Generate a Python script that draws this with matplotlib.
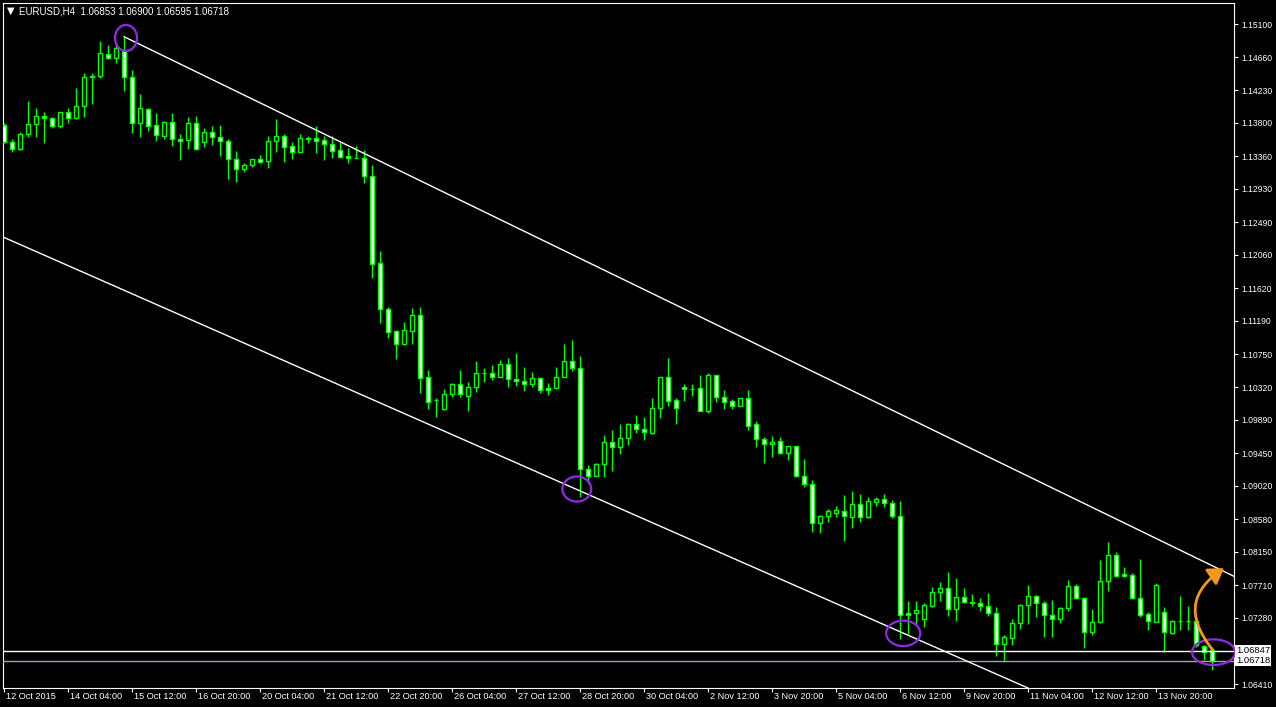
import matplotlib
matplotlib.use("Agg")
import matplotlib.pyplot as plt
import numpy as np
from matplotlib.patches import Ellipse, FancyArrowPatch
from matplotlib.path import Path

plt.rcParams["font.family"] = ["Liberation Sans", "DejaVu Sans"]

# EURUSD H4 candles, 12 Oct 2015 20:00 onwards
opens = [1.13770, 1.13550, 1.13450, 1.13648, 1.13779, 1.13893, 1.13866, 1.13757, 1.13937, 1.13858,
         1.14024, 1.14419, 1.14415, 1.14701, 1.14648, 1.14758, 1.14398, 1.13800, 1.13977, 1.13766,
         1.13629, 1.13806, 1.13582, 1.13573, 1.13793, 1.13550, 1.13674, 1.13608, 1.13563, 1.13319,
         1.13187, 1.13247, 1.13319, 1.13292, 1.13563, 1.13625, 1.13494, 1.13419, 1.13586, 1.13595,
         1.13573, 1.13516, 1.13441, 1.13362, 1.13332, 1.13332, 1.13103, 1.11949, 1.11343, 1.11058,
         1.10883, 1.11062, 1.11268, 1.10448, 1.10149, 1.10031, 1.10224, 1.10360, 1.10206, 1.10316,
         1.10501, 1.10501, 1.10456, 1.10619, 1.10426, 1.10399, 1.10356, 1.10435, 1.10303, 1.10303,
         1.10456, 1.10667, 1.10577, 1.09237, 1.09153, 1.09303, 1.09600, 1.09534, 1.09645, 1.09829,
         1.09763, 1.09719, 1.10040, 1.10448, 1.10149, 1.10316, 1.10294, 1.10303, 1.10008, 1.10478,
         1.10185, 1.10136, 1.10074, 1.10172, 1.09829, 1.09632, 1.09566, 1.09613, 1.09447, 1.09547,
         1.09149, 1.09039, 1.08534, 1.08622, 1.08665, 1.08688, 1.08613, 1.08776, 1.08613, 1.08810,
         1.08842, 1.08789, 1.08622, 1.07341, 1.07349, 1.07262, 1.07441, 1.07617, 1.07670, 1.07393,
         1.07559, 1.07493, 1.07472, 1.07437, 1.07341, 1.06932, 1.07019, 1.07209, 1.07450, 1.07568,
         1.07472, 1.07318, 1.07262, 1.07407, 1.07700, 1.07538, 1.07091, 1.07222, 1.07766, 1.08108,
         1.07854, 1.07845, 1.07538, 1.07327, 1.07230, 1.07362, 1.07085, 1.07239, 1.07239, 1.07239,
         1.06914, 1.06853]
highs = [1.13796, 1.13582, 1.13682, 1.14086, 1.13990, 1.13937, 1.13879, 1.13945, 1.13990, 1.14253,
         1.14451, 1.14459, 1.14876, 1.14824, 1.14854, 1.14933, 1.14494, 1.14174, 1.13990, 1.13924,
         1.13827, 1.13924, 1.13652, 1.13872, 1.13889, 1.13727, 1.13757, 1.13770, 1.13582, 1.13428,
         1.13266, 1.13322, 1.13375, 1.13625, 1.13849, 1.13652, 1.13542, 1.13652, 1.13625, 1.13757,
         1.13625, 1.13625, 1.13542, 1.13471, 1.13494, 1.13441, 1.13243, 1.12111, 1.11378, 1.11071,
         1.11172, 1.11365, 1.11378, 1.10544, 1.10172, 1.10290, 1.10377, 1.10544, 1.10382, 1.10663,
         1.10567, 1.10610, 1.10676, 1.10698, 1.10764, 1.10580, 1.10514, 1.10456, 1.10369, 1.10580,
         1.10887, 1.10939, 1.10729, 1.09293, 1.09324, 1.09688, 1.09754, 1.09833, 1.09842, 1.09952,
         1.09921, 1.10172, 1.10452, 1.10706, 1.10172, 1.10360, 1.10360, 1.10478, 1.10501, 1.10480,
         1.10281, 1.10162, 1.10172, 1.10281, 1.09873, 1.09658, 1.09675, 1.09658, 1.09547, 1.09550,
         1.09368, 1.09096, 1.08635, 1.08714, 1.08754, 1.08898, 1.08951, 1.08912, 1.08876, 1.08876,
         1.08912, 1.08833, 1.08823, 1.07503, 1.07507, 1.07480, 1.07691, 1.07757, 1.07888, 1.07809,
         1.07670, 1.07595, 1.07538, 1.07612, 1.07428, 1.07055, 1.07262, 1.07463, 1.07713, 1.07582,
         1.07507, 1.07516, 1.07428, 1.07779, 1.07727, 1.07559, 1.07393, 1.08043, 1.08283, 1.08152,
         1.07946, 1.07867, 1.08052, 1.07362, 1.07736, 1.07428, 1.07253, 1.07568, 1.07441, 1.07253,
         1.06925, 1.06900]
lows = [1.13533, 1.13419, 1.13445, 1.13608, 1.13616, 1.13529, 1.13727, 1.13727, 1.13800, 1.13849,
        1.13879, 1.14047, 1.14393, 1.14635, 1.14583, 1.14222, 1.13669, 1.13608, 1.13691, 1.13563,
        1.13582, 1.13498, 1.13309, 1.13450, 1.13445, 1.13484, 1.13507, 1.13362, 1.13059, 1.13024,
        1.13155, 1.13221, 1.13266, 1.13208, 1.13419, 1.13287, 1.13322, 1.13411, 1.13529, 1.13405,
        1.13309, 1.13340, 1.13340, 1.13274, 1.13330, 1.13003, 1.11760, 1.11159, 1.10970, 1.10689,
        1.10880, 1.10883, 1.10245, 1.10027, 1.09929, 1.10018, 1.10193, 1.10193, 1.10008, 1.10259,
        1.10390, 1.10413, 1.10448, 1.10324, 1.10334, 1.10272, 1.10324, 1.10237, 1.10215, 1.10290,
        1.10448, 1.10535, 1.08872, 1.09052, 1.09150, 1.09139, 1.09218, 1.09438, 1.09557, 1.09711,
        1.09623, 1.09702, 1.09916, 1.10070, 1.09833, 1.10140, 1.10206, 1.10004, 1.09974, 1.10127,
        1.10031, 1.10031, 1.10074, 1.09754, 1.09534, 1.09324, 1.09403, 1.09438, 1.09359, 1.09139,
        1.09008, 1.08415, 1.08402, 1.08547, 1.08613, 1.08297, 1.08468, 1.08547, 1.08599, 1.08754,
        1.08744, 1.08599, 1.06998, 1.07064, 1.07177, 1.07164, 1.07420, 1.07507, 1.07305, 1.07239,
        1.07480, 1.07437, 1.07371, 1.07305, 1.06782, 1.06696, 1.06923, 1.07134, 1.07196, 1.07296,
        1.07025, 1.07033, 1.07217, 1.07375, 1.07525, 1.06880, 1.07055, 1.07209, 1.07638, 1.07823,
        1.07815, 1.07525, 1.07296, 1.07121, 1.07222, 1.06827, 1.07068, 1.07121, 1.07121, 1.06901,
        1.06726, 1.06595]
closes = [1.13550, 1.13450, 1.13648, 1.13779, 1.13893, 1.13866, 1.13761, 1.13937, 1.13858, 1.14024,
          1.14398, 1.14398, 1.14714, 1.14648, 1.14780, 1.14398, 1.13800, 1.13990, 1.13761, 1.13634,
          1.13806, 1.13582, 1.13563, 1.13793, 1.13450, 1.13674, 1.13608, 1.13563, 1.13319, 1.13187,
          1.13240, 1.13319, 1.13287, 1.13563, 1.13625, 1.13484, 1.13419, 1.13595, 1.13595, 1.13563,
          1.13516, 1.13432, 1.13353, 1.13332, 1.13332, 1.13103, 1.11936, 1.11343, 1.11049, 1.10883,
          1.11071, 1.11268, 1.10435, 1.10127, 1.10149, 1.10228, 1.10360, 1.10224, 1.10316, 1.10501,
          1.10501, 1.10456, 1.10619, 1.10422, 1.10399, 1.10356, 1.10435, 1.10281, 1.10281, 1.10448,
          1.10667, 1.10567, 1.09237, 1.09153, 1.09303, 1.09600, 1.09526, 1.09645, 1.09829, 1.09763,
          1.09724, 1.10040, 1.10448, 1.10140, 1.10040, 1.10290, 1.10294, 1.10008, 1.10478, 1.10185,
          1.10127, 1.10074, 1.10172, 1.09811, 1.09632, 1.09566, 1.09600, 1.09447, 1.09547, 1.09149,
          1.09039, 1.08526, 1.08622, 1.08688, 1.08701, 1.08626, 1.08776, 1.08613, 1.08819, 1.08846,
          1.08789, 1.08626, 1.07318, 1.07318, 1.07384, 1.07450, 1.07617, 1.07670, 1.07393, 1.07559,
          1.07486, 1.07472, 1.07437, 1.07341, 1.06932, 1.07033, 1.07209, 1.07450, 1.07568, 1.07472,
          1.07318, 1.07266, 1.07414, 1.07700, 1.07538, 1.07098, 1.07222, 1.07766, 1.08108, 1.07836,
          1.07832, 1.07538, 1.07318, 1.07239, 1.07713, 1.07091, 1.07239, 1.07239, 1.07239, 1.06923,
          1.06835, 1.06718]

date_labels = ["12 Oct 2015", "14 Oct 04:00", "15 Oct 12:00", "16 Oct 20:00", "20 Oct 04:00",
               "21 Oct 12:00", "22 Oct 20:00", "26 Oct 04:00", "27 Oct 12:00", "28 Oct 20:00",
               "30 Oct 04:00", "2 Nov 12:00", "3 Nov 20:00", "5 Nov 04:00", "6 Nov 12:00",
               "9 Nov 20:00", "11 Nov 04:00", "12 Nov 12:00", "13 Nov 20:00"]
label_step = 8
price_ticks = [1.15100, 1.14660, 1.14230, 1.13800, 1.13360, 1.12930, 1.12490, 1.12060, 1.11620,
               1.11190, 1.10750, 1.10320, 1.09890, 1.09450, 1.09020, 1.08580, 1.08150, 1.07710,
               1.07280, 1.06410]

hline_price = 1.06847
bid_price = 1.06718
# trendlines: (bar, price) anchors
upper_trend = [(15, 1.14933), (150, 1.08020)]
lower_trend = [(0, 1.12290), (120, 1.06728)]
# marked swing points: (bar, price)
marks = [(15.25, 1.14916), (71.6, 1.08977), (112.4, 1.07077), (151.2, 1.06829)]

LIME = "#00ff00"
W, H = 1276, 707
fig = plt.figure(figsize=(W / 100, H / 100), dpi=100, facecolor="black")
ax = fig.add_axes([3 / W, 1 - 688 / H, (1234 - 3) / W, (688 - 3) / H])
ax.set_facecolor("black")

n = len(opens)
x = np.arange(n)
o = np.array(opens); c = np.array(closes)
hi = np.array(highs); lo = np.array(lows)

ax.vlines(x, lo, hi, color=LIME, lw=1, zorder=2)
bottoms = np.minimum(o, c)
heights = np.abs(c - o)
faces = ["black" if cc > oo else "white" for oo, cc in zip(o, c)]
ax.bar(x, heights, bottom=bottoms, width=0.52, color=faces, edgecolor=LIME,
       linewidth=1, zorder=3)

ax.set_xlim(-0.125, 153.75)
ax.set_ylim(1.063574, 1.153765)

# horizontal line and bid line
ax.axhline(hline_price, color="white", lw=1, zorder=4)
ax.axhline(bid_price, color="#9aa6b2", lw=1, zorder=4)

# trendlines
(ux0, uy0), (ux1, uy1) = upper_trend
slope_u = (uy1 - uy0) / (ux1 - ux0)
xe = 160
ax.plot([ux0, xe], [uy0, uy0 + slope_u * (xe - ux0)], color="white", lw=1, zorder=5)
ax.axline(lower_trend[0], lower_trend[1], color="white", lw=1, zorder=5)

# purple ellipses
sizes = [(2.75, 0.00342), (3.6, 0.00330), (4.25, 0.00336), (5.4, 0.00338)]
for (mx, my), (ew, eh) in zip(marks, sizes):
    ax.add_patch(Ellipse((mx, my), ew, eh, fill=False, ec="#8f2be6", lw=1.6,
                         zorder=7, clip_on=False))

# orange arrow
verts = [(151.1, 1.06857), (147.6, 1.07318), (148.5, 1.07648), (152.5, 1.07935)]
arrow_path = Path(verts, [Path.MOVETO, Path.CURVE4, Path.CURVE4, Path.CURVE4])
ax.add_patch(FancyArrowPatch(path=arrow_path, arrowstyle="-|>,head_length=0.7,head_width=0.45",
                             mutation_scale=13, color="#f7961e", lw=2.0, zorder=8))

# axes styling
for s in ax.spines.values():
    s.set_color("white")
    s.set_linewidth(0.8)
ax.yaxis.tick_right()
ax.set_yticks(price_ticks)
ax.set_yticklabels([f"{p:.5f}" for p in price_ticks])
ax.tick_params(axis="y", direction="out", length=3, width=0.8, colors="white",
               labelsize=6.2, pad=2)
tick_pos = [i * label_step for i in range(len(date_labels))]
ax.set_xticks(tick_pos)
ax.set_xticklabels([])
ax.tick_params(axis="x", direction="out", length=3, width=0.8, colors="white")
for pos, lab in zip(tick_pos, date_labels):
    ax.text(pos + 0.2, -0.013, lab, transform=ax.get_xaxis_transform(), ha="left",
            va="center", color="white", fontsize=6.6)

# price boxes at the right
for p in (hline_price, bid_price):
    ax.text(1.0015, p, f"{p:.5f}", transform=ax.get_yaxis_transform(), ha="left",
            va="center", color="black", fontsize=6.8, zorder=10, clip_on=False,
            bbox=dict(boxstyle="square,pad=0.12", fc="white", ec="none"))

# header
fig.text(7 / W, 1 - 11 / H, "▼", color="white", fontsize=7, va="center", ha="left",
         family="DejaVu Sans")
fig.text(19 / W, 1 - 11 / H, "EURUSD,H4  1.06853 1.06900 1.06595 1.06718", color="white",
         fontsize=7, va="center", ha="left")

fig.savefig("out.png", dpi=100, facecolor="black")
